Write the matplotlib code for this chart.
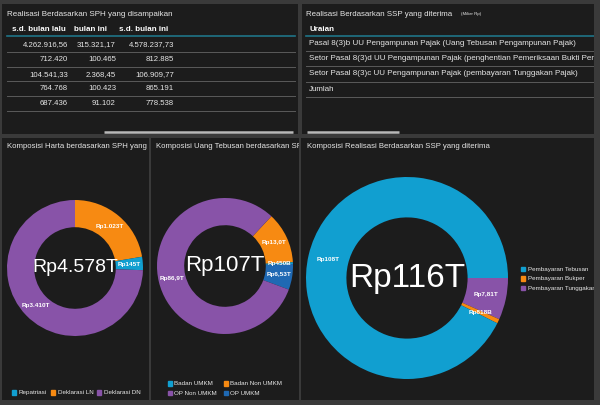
import matplotlib.pyplot as plt
import numpy as np

plt.rcParams["font.family"] = ["Liberation Sans", "DejaVu Sans"]

W, H = 600, 405

# top-left table: Realisasi berdasarkan SPH
sph_headers = ["s.d. bulan lalu", "bulan ini", "s.d. bulan ini"]
sph_lalu = ["4.262.916,56", "712.420", "104.541,33", "764.768", "687.436"]
sph_ini = ["315.321,17", "100.465", "2.368,45", "100.423", "91.102"]
sph_sd = ["4.578.237,73", "812.885", "106.909,77", "865.191", "778.538"]

# top-right table: Realisasi berdasarkan SSP
ssp_uraian = [
    "Pasal 8(3)b UU Pengampunan Pajak (Uang Tebusan Pengampunan Pajak)",
    "Setor Pasal 8(3)d UU Pengampunan Pajak (penghentian Pemeriksaan Bukti Permulaan)",
    "Setor Pasal 8(3)c UU Pengampunan Pajak (pembayaran Tunggakan Pajak)",
    "Jumlah",
]

# donut 1: Komposisi Harta (triliun Rp)
harta_cat = ["Deklarasi LN", "Repatriasi", "Deklarasi DN"]
harta_val = [1023, 145, 3410]
harta_lbl = ["Rp1.023T", "Rp145T", "Rp3.410T"]
harta_legend = ["Repatriasi", "Deklarasi LN", "Deklarasi DN"]

# donut 2: Komposisi Uang Tebusan (triliun Rp)
tebusan_cat = ["Badan Non UMKM", "Badan UMKM", "OP UMKM", "OP Non UMKM"]
tebusan_val = [13.0, 0.45, 6.53, 86.9]
tebusan_lbl = ["Rp13,0T", "Rp450B", "Rp6,53T", "Rp86,9T"]
tebusan_legend = ["Badan UMKM", "Badan Non UMKM", "OP Non UMKM", "OP UMKM"]

# donut 3: Komposisi Realisasi SSP (triliun Rp)
ssp_cat = ["Pembayaran Tunggakan", "Pembayaran Bukper", "Pembayaran Tebusan"]
ssp_val = [7.81, 0.818, 108]
ssp_lbl = ["Rp7,81T", "Rp818B", "Rp108T"]
ssp_legend = ["Pembayaran Tebusan", "Pembayaran Bukper", "Pembayaran Tunggakan"]

colors = {
    "Repatriasi": "#119fd0", "Deklarasi LN": "#f78a12", "Deklarasi DN": "#8853a8",
    "Badan UMKM": "#119fd0", "Badan Non UMKM": "#f78a12",
    "OP Non UMKM": "#8853a8", "OP UMKM": "#1f69b3",
    "Pembayaran Tebusan": "#119fd0", "Pembayaran Bukper": "#f78a12",
    "Pembayaran Tunggakan": "#8853a8",
}

PANEL = "#1c1c1c"
TXT = "#e6e6e6"
LINE = "#5a5a5a"
TEAL = "#1f7487"

fig = plt.figure(figsize=(6, 4.05), dpi=100, facecolor="#3a3a3a")


def panel(x0, y0, x1, y1):
    ax = fig.add_axes([x0 / W, 1 - y1 / H, (x1 - x0) / W, (y1 - y0) / H])
    ax.set_facecolor(PANEL)
    ax.set_xlim(x0, x1)
    ax.set_ylim(y1, y0)
    ax.set_xticks([])
    ax.set_yticks([])
    for s in ax.spines.values():
        s.set_visible(False)
    return ax


def donut(cx, cy, r, cats, vals, lbls, start, center_txt, csize):
    ax = fig.add_axes([(cx - r) / W, 1 - (cy + r) / H, 2 * r / W, 2 * r / H])
    ax.pie(vals, colors=[colors[c] for c in cats], startangle=start,
           counterclock=False, radius=1,
           wedgeprops=dict(width=0.4, edgecolor="none"))
    ax.set_xlim(-1, 1)
    ax.set_ylim(-1, 1)
    ax.axis("off")
    total = sum(vals)
    cum = 0
    for v, l in zip(vals, lbls):
        ang = np.deg2rad(start - 360 * (cum + v / 2) / total)
        cum += v
        ax.text(0.8 * np.cos(ang), 0.8 * np.sin(ang), l, ha="center",
                va="center", color="white", fontsize=4.6, fontweight="bold")
    ax.text(0, 0, center_txt, ha="center", va="center", color="white",
            fontsize=csize)
    return ax


def legend_item(ax, x, y, name):
    ax.add_patch(plt.Rectangle((x, y - 2.2), 4.4, 4.4, color=colors[name],
                               clip_on=True))
    ax.text(x + 6.5, y, name, color=TXT, fontsize=4.5, va="center",
            ha="left", clip_on=True)


# ---- top left table ----
ax1 = panel(2, 4, 298, 134)
ax1.text(7, 14, "Realisasi Berdasarkan SPH yang disampaikan", color=TXT,
         fontsize=5.8, va="center")
for x, h in zip([39, 90, 144], sph_headers):
    ax1.text(x, 29.5, h, color="white", fontsize=5.8, fontweight="bold",
             ha="center", va="center")
ax1.plot([7, 295], [36, 36], color=TEAL, lw=1.2)
for i in range(len(sph_lalu)):
    y = 44.5 + i * 14.8
    ax1.text(68, y, sph_lalu[i], color=TXT, fontsize=5.6, ha="right", va="center")
    ax1.text(116, y, sph_ini[i], color=TXT, fontsize=5.6, ha="right", va="center")
    ax1.text(174, y, sph_sd[i], color=TXT, fontsize=5.6, ha="right", va="center")
    ax1.plot([7, 295], [y + 7.3, y + 7.3], color=LINE, lw=0.7)
ax1.plot([104, 293], [132, 132], color="#b8b8b8", lw=1.8, solid_capstyle="butt")

# ---- top right table ----
ax2 = panel(302, 4, 594, 134)
ax2.text(306, 14, "Realisasi Berdasarkan SSP yang diterima", color=TXT,
         fontsize=5.7, va="center")
ax2.text(461, 14.5, "(Miliar Rp)", color=TXT, fontsize=3.2, va="center")
ax2.text(309, 29.5, "Uraian", color="white", fontsize=5.8,
         fontweight="bold", va="center")
ax2.plot([306, 594], [36, 36], color=TEAL, lw=1.2)
for i, t in enumerate(ssp_uraian):
    y = 43.5 + i * 15.2
    ax2.text(309, y, t, color=TXT, fontsize=5.8, va="center", clip_on=True)
    ax2.plot([306, 594], [y + 7.6, y + 7.6], color=LINE, lw=0.7)
ax2.plot([307, 399], [132, 132], color="#b8b8b8", lw=1.8, solid_capstyle="butt")

# ---- bottom panels ----
ax3 = panel(2, 138, 149, 400)
ax3.text(7, 146, "Komposisi Harta berdasarkan SPH yang disampaikan",
         color=TXT, fontsize=5.6, va="center", clip_on=True)
for x, n in zip([12, 51, 97], harta_legend):
    legend_item(ax3, x, 392.5, n)

ax4 = panel(151, 138, 299, 400)
ax4.text(156, 146, "Komposisi Uang Tebusan berdasarkan SPH yang disampaikan",
         color=TXT, fontsize=5.6, va="center", clip_on=True)
for (x, y), n in zip([(168, 383.5), (224, 383.5), (168, 393), (224, 393)],
                     tebusan_legend):
    legend_item(ax4, x, y, n)

ax5 = panel(301, 138, 594, 400)
ax5.text(307, 146, "Komposisi Realisasi Berdasarkan SSP yang diterima",
         color=TXT, fontsize=5.6, va="center", clip_on=True)
for i, n in enumerate(ssp_legend):
    legend_item(ax5, 521, 269 + i * 9.5, n)

donut(75, 268, 68, harta_cat, harta_val, harta_lbl, 90, "Rp4.578T", 14)
donut(225, 266, 68, tebusan_cat, tebusan_val, tebusan_lbl, 47, "Rp107T", 16)
donut(407, 278, 101, ssp_cat, ssp_val, ssp_lbl, 0, "Rp116T", 24)

fig.savefig("out.png", dpi=100, facecolor=fig.get_facecolor())
